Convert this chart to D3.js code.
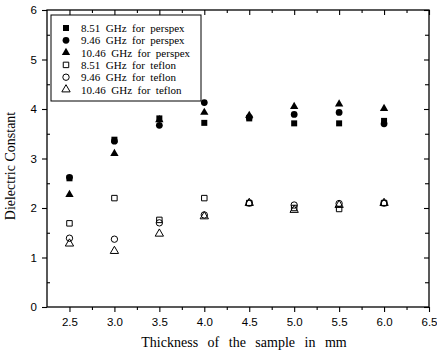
<!DOCTYPE html>
<html>
<head>
<meta charset="utf-8">
<script src="https://cdn.jsdelivr.net/npm/d3@7"></script>
<style>
    body { margin: 0; background: #fff; }
    svg { display: block; }
</style>
</head>
<body>
<div id="chart"></div>
<script>
(function(){
    // thickness of the sample (mm)
    const thickness = [2.5, 3.0, 3.5, 4.0, 4.5, 5.0, 5.5, 6.0];

    const perspex851 = [2.60, 3.38, 3.81, 3.72, 3.81, 3.71, 3.71, 3.76];
    const perspex946 = [2.62, 3.35, 3.67, 4.13, 3.83, 3.89, 3.93, 3.70];
    const perspex1046 = [2.27, 3.10, 3.78, 3.93, 3.87, 4.05, 4.10, 4.01];
    const teflon851 = [1.69, 2.20, 1.76, 2.20, 2.10, 2.00, 1.98, 2.10];
    const teflon946 = [1.39, 1.37, 1.70, 1.86, 2.10, 2.06, 2.09, 2.10];
    const teflon1046 = [1.28, 1.13, 1.48, 1.83, 2.10, 1.96, 2.06, 2.10];

    const xTicks = [2.5, 3.0, 3.5, 4.0, 4.5, 5.0, 5.5, 6.0, 6.5];
    const yTicks = [0, 1, 2, 3, 4, 5, 6];

    const series = [
        { name: '8.51  GHz  for  perspex', values: perspex851, shape: d3.symbolSquare, size: 36, filled: true },
        { name: '9.46  GHz  for  perspex', values: perspex946, shape: d3.symbolCircle, size: 36, filled: true },
        { name: '10.46  GHz  for  perspex', values: perspex1046, shape: d3.symbolTriangle, size: 30, filled: true },
        { name: '8.51  GHz  for  teflon', values: teflon851, shape: d3.symbolSquare, size: 30, filled: false },
        { name: '9.46  GHz  for  teflon', values: teflon946, shape: d3.symbolCircle, size: 32, filled: false },
        { name: '10.46  GHz  for  teflon', values: teflon1046, shape: d3.symbolTriangle, size: 30, filled: false }
    ];

    const margin = { top: 10, right: 8, bottom: 49, left: 47 };
    const width = 437 - margin.left - margin.right;
    const height = 356 - margin.top - margin.bottom;

    const svg = d3.select('#chart')
        .append('svg')
            .attr('width', 437)
            .attr('height', 356)
        .append('g')
            .attr('transform', `translate(${margin.left}, ${margin.top})`);

    const xScale = d3.scaleLinear().domain([2.25, 6.5]).range([0, width]);
    const yScale = d3.scaleLinear().domain([0, 6]).range([height, 0]);

    const xMinor = d3.range(2.25, 6.5, 0.5).map(d => +d.toFixed(2)).filter(d => d > 2.25);
    const yMinor = d3.range(0.5, 6, 1);

    function styleAxis(g) {
        g.selectAll('.domain').remove();
        g.selectAll('line').attr('stroke', '#000').attr('stroke-width', 1.1);
        g.selectAll('text')
            .style('font-family', '"Liberation Sans", Arial, sans-serif')
            .style('font-size', '11.5px')
            .attr('fill', '#000');
    }

    // bottom axis: outward ticks
    svg.append('g')
        .attr('transform', `translate(0, ${height})`)
        .call(d3.axisBottom(xScale).tickValues(xTicks).tickFormat(d3.format('.1f')).tickSize(5).tickPadding(6))
        .call(styleAxis);
    svg.append('g')
        .attr('transform', `translate(0, ${height})`)
        .call(d3.axisBottom(xScale).tickValues(xMinor).tickFormat('').tickSize(3))
        .call(styleAxis);

    // left axis: outward ticks
    svg.append('g')
        .call(d3.axisLeft(yScale).tickValues(yTicks).tickFormat(d3.format('d')).tickSize(5).tickPadding(5))
        .call(styleAxis);
    svg.append('g')
        .call(d3.axisLeft(yScale).tickValues(yMinor).tickFormat('').tickSize(-3))
        .call(styleAxis);

    // top axis: inward ticks
    svg.append('g')
        .call(d3.axisTop(xScale).tickValues(xTicks).tickFormat('').tickSize(-5))
        .call(styleAxis);
    svg.append('g')
        .call(d3.axisTop(xScale).tickValues(xMinor).tickFormat('').tickSize(-3))
        .call(styleAxis);

    // right axis: inward ticks
    svg.append('g')
        .attr('transform', `translate(${width}, 0)`)
        .call(d3.axisRight(yScale).tickValues(yTicks).tickFormat('').tickSize(-5))
        .call(styleAxis);
    svg.append('g')
        .attr('transform', `translate(${width}, 0)`)
        .call(d3.axisRight(yScale).tickValues(yMinor).tickFormat('').tickSize(-4))
        .call(styleAxis);

    // frame
    svg.append('rect')
        .attr('width', width)
        .attr('height', height)
        .attr('fill', 'none')
        .attr('stroke', '#000')
        .attr('stroke-width', 1.3);

    // points
    series.forEach(s => {
        svg.selectAll(null)
            .data(s.values.map((v, i) => ({ x: thickness[i], y: v })))
            .enter()
            .append('path')
                .attr('d', d3.symbol().type(s.shape).size(s.size))
                .attr('transform', d => `translate(${xScale(d.x)}, ${yScale(d.y)})`)
                .attr('fill', s.filled ? '#000' : 'none')
                .attr('stroke', s.filled ? 'none' : '#000')
                .attr('stroke-width', 1);
    });

    // legend
    const legend = svg.append('g')
        .attr('transform', 'translate(4, 5)');

    legend.append('rect')
        .attr('width', 150)
        .attr('height', 86)
        .attr('fill', '#fff')
        .attr('stroke', '#000')
        .attr('stroke-width', 1);

    const rows = legend.selectAll('.row')
        .data(series)
        .enter()
        .append('g')
            .attr('class', 'row')
            .attr('transform', (d, i) => `translate(0, ${13 + i * 12.3})`);

    rows.append('path')
        .attr('d', d => d3.symbol().type(d.shape).size(d.size)())
        .attr('transform', 'translate(15, 0)')
        .attr('fill', d => d.filled ? '#000' : 'none')
        .attr('stroke', d => d.filled ? 'none' : '#000')
        .attr('stroke-width', 1);

    rows.append('text')
        .attr('x', 30)
        .attr('y', 4)
        .style('font-family', '"Liberation Serif", "Times New Roman", serif')
        .style('font-size', '11px')
        .style('white-space', 'pre')
        .text(d => d.name);

    // axis titles
    svg.append('text')
        .attr('x', 197)
        .attr('y', height + 40)
        .attr('text-anchor', 'middle')
        .style('font-family', '"Liberation Serif", "Times New Roman", serif')
        .style('font-size', '14px')
        .style('word-spacing', '6px')
        .text('Thickness of the sample in mm');

    svg.append('text')
        .attr('transform', `translate(${-32}, ${156}) rotate(-90)`)
        .attr('text-anchor', 'middle')
        .style('font-family', '"Liberation Serif", "Times New Roman", serif')
        .style('font-size', '14px')
        .text('Dielectric Constant');
}())
</script>
</body>
</html>
